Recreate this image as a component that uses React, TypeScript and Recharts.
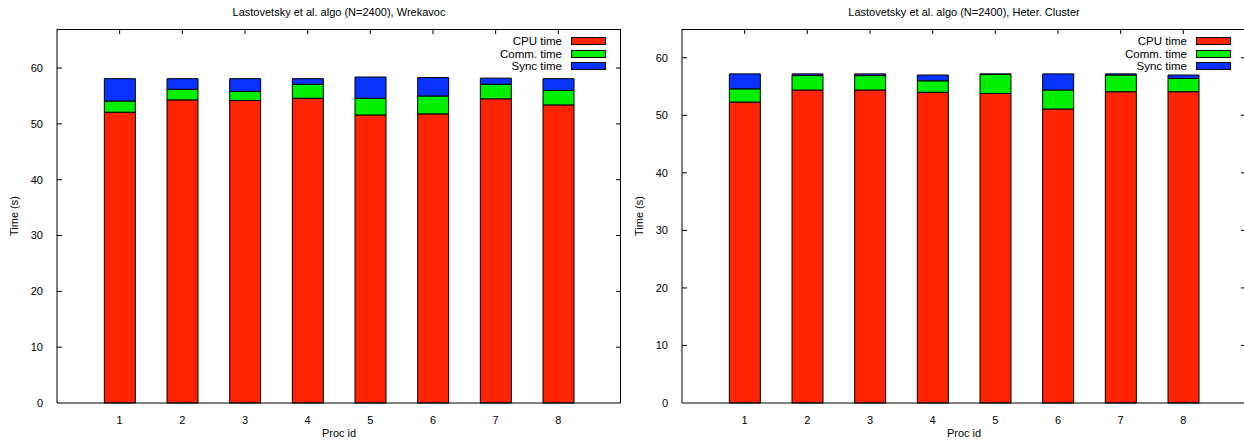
import React from 'react';
import { BarChart, Bar, XAxis, YAxis, ReferenceLine } from 'recharts';

// proc ids on the x axis
const procIds = [1, 2, 3, 4, 5, 6, 7, 8];
const yTicks = [0, 10, 20, 30, 40, 50, 60];

// Wrekavoc (left panel)
const wrekCpu = [52.1, 54.3, 54.2, 54.6, 51.6, 51.8, 54.5, 53.4];
const wrekComm = [2.0, 1.9, 1.6, 2.5, 3.0, 3.2, 2.6, 2.6];
const wrekSync = [4.0, 1.9, 2.3, 1.0, 3.8, 3.3, 1.1, 2.1];

// Heter. Cluster (right panel)
const clusterCpu = [52.3, 54.4, 54.4, 54.0, 53.8, 51.1, 54.1, 54.1];
const clusterComm = [2.3, 2.5, 2.5, 2.0, 3.3, 3.3, 2.9, 2.3];
const clusterSync = [2.6, 0.3, 0.3, 1.0, 0.1, 2.8, 0.2, 0.6];

const series = [
  { key: 'cpu', name: 'CPU time', color: '#ff2400' },
  { key: 'comm', name: 'Comm. time', color: '#00f000' },
  { key: 'sync', name: 'Sync time', color: '#0a32ff' },
];

const buildRows = (cpu: number[], comm: number[], sync: number[]) =>
  procIds.map((p, i) => ({ proc: p, cpu: cpu[i], comm: comm[i], sync: sync[i] }));

const font = '"Liberation Sans", Arial, Helvetica, sans-serif';
const CHART_H = 444;
const PLOT_TOP = 29;
const X_AXIS_H = 41;
const X_MAX = 9;
const TICK_PX = 5;

interface PanelProps {
  title: string;
  rows: { proc: number; cpu: number; comm: number; sync: number }[];
  yMax: number;
  left: number;
  width: number;
  yAxisWidth: number;
  marginRight: number;
}

const Panel: React.FC<PanelProps> = ({ title, rows, yMax, left, width, yAxisWidth, marginRight }) => {
  const plotLeft = yAxisWidth;
  const plotRight = width - marginRight;
  const plotW = plotRight - plotLeft;
  const plotBottom = CHART_H - X_AXIS_H;
  const plotH = plotBottom - PLOT_TOP;
  const center = (plotLeft + plotRight) / 2;
  const barSize = Math.round((plotW / X_MAX) * 0.5);
  // gnuplot style inward ticks, lengths converted to data units
  const tx = (TICK_PX * X_MAX) / plotW;
  const ty = (TICK_PX * yMax) / plotH;

  return (
    <div style={{ position: 'absolute', left, top: 0, width, height: CHART_H }}>
      <BarChart
        width={width}
        height={CHART_H}
        data={rows}
        margin={{ top: PLOT_TOP, right: marginRight, left: 0, bottom: 0 }}
      >
        <XAxis
          dataKey="proc"
          type="number"
          domain={[0, X_MAX]}
          ticks={procIds}
          interval={0}
          height={X_AXIS_H}
          tickLine={false}
          tickMargin={7}
          axisLine={{ stroke: '#000' }}
          tick={{ fill: '#000', fontSize: 11 }}
        />
        <YAxis
          type="number"
          domain={[0, yMax]}
          ticks={yTicks}
          interval={0}
          width={yAxisWidth}
          tickLine={false}
          tickMargin={8}
          axisLine={{ stroke: '#000' }}
          tick={{ fill: '#000', fontSize: 11 }}
        />
        {series.map((s) => (
          <Bar
            key={s.key}
            dataKey={s.key}
            name={s.name}
            stackId="t"
            fill={s.color}
            stroke="#000"
            strokeWidth={1}
            barSize={barSize}
            isAnimationActive={false}
          />
        ))}
        {/* inward ticks on top border */}
        {procIds.map((p) => (
          <ReferenceLine
            key={`tt${p}`}
            segment={[{ x: p, y: yMax }, { x: p, y: yMax - ty }]}
            stroke="#000"
            ifOverflow="visible"
          />
        ))}
        {/* inward ticks on left and right borders */}
        {yTicks.slice(1).map((t) => (
          <ReferenceLine
            key={`tl${t}`}
            segment={[{ x: 0, y: t }, { x: tx, y: t }]}
            stroke="#000"
            ifOverflow="visible"
          />
        ))}
        {yTicks.slice(1).map((t) => (
          <ReferenceLine
            key={`tr${t}`}
            segment={[{ x: X_MAX - tx, y: t }, { x: X_MAX, y: t }]}
            stroke="#000"
            ifOverflow="visible"
          />
        ))}
      </BarChart>

      {/* plot frame (top and right border) */}
      <div
        style={{
          position: 'absolute',
          left: plotLeft,
          top: PLOT_TOP,
          width: plotW,
          height: plotH,
          borderTop: '1px solid #000',
          borderRight: '1px solid #000',
          boxSizing: 'border-box',
          pointerEvents: 'none',
        }}
      />

      {/* title */}
      <div
        style={{
          position: 'absolute',
          left: center - 200,
          width: 400,
          top: 5,
          textAlign: 'center',
          fontSize: 11,
          lineHeight: '14px',
          whiteSpace: 'nowrap',
        }}
      >
        {title}
      </div>

      {/* x label */}
      <div
        style={{
          position: 'absolute',
          left: center - 50,
          width: 100,
          top: plotBottom + 23,
          textAlign: 'center',
          fontSize: 11,
          lineHeight: '14px',
        }}
      >
        Proc id
      </div>

      {/* y label */}
      <div
        style={{
          position: 'absolute',
          left: plotLeft - 43.5 - 40,
          top: (PLOT_TOP + plotBottom) / 2 - 7,
          width: 80,
          textAlign: 'center',
          fontSize: 11,
          lineHeight: '14px',
          transform: 'rotate(-90deg)',
        }}
      >
        Time (s)
      </div>

      {/* legend */}
      {series.map((s, i) => (
        <div
          key={s.key}
          style={{
            position: 'absolute',
            left: plotRight - 15 - 35 - 9 - 120,
            top: 34 + i * 12.5,
            height: 14,
            display: 'flex',
            alignItems: 'center',
            fontSize: 11.5,
          }}
        >
          <span style={{ width: 120, textAlign: 'right', marginRight: 9, whiteSpace: 'nowrap' }}>{s.name}</span>
          <span
            style={{
              display: 'inline-block',
              width: 33,
              height: 6,
              background: s.color,
              border: '1px solid #000',
            }}
          />
        </div>
      ))}
    </div>
  );
};

export default function App() {
  return (
    <div
      style={{
        position: 'absolute',
        left: 0,
        top: 0,
        width: 1244,
        height: CHART_H,
        overflow: 'hidden',
        background: '#fff',
        fontFamily: font,
        color: '#000',
      }}
    >
      <Panel
        title="Lastovetsky et al. algo (N=2400), Wrekavoc"
        rows={buildRows(wrekCpu, wrekComm, wrekSync)}
        yMax={67}
        left={0}
        width={624}
        yAxisWidth={57}
        marginRight={3}
      />
      <Panel
        title="Lastovetsky et al. algo (N=2400), Heter. Cluster"
        rows={buildRows(clusterCpu, clusterComm, clusterSync)}
        yMax={65}
        left={624}
        width={624}
        yAxisWidth={58}
        marginRight={2}
      />
    </div>
  );
}
